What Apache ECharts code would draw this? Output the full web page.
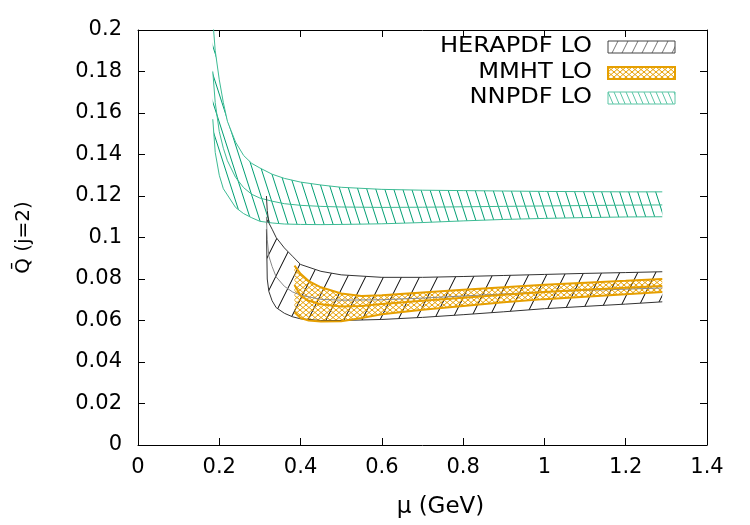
<!DOCTYPE html>
<html>
<head>
<meta charset="utf-8">
<script src="https://cdn.jsdelivr.net/npm/echarts/dist/echarts.min.js"></script>
<style>html,body{margin:0;padding:0;background:#fff}#c{width:750px;height:525px}</style>
</head>
<body>
<div id="c"></div>
<script>
// ---- data ----
const legendNames = ['HERAPDF LO', 'MMHT LO', 'NNPDF LO'];

const nnX   = [0.184, 0.19, 0.20, 0.21, 0.22, 0.24, 0.26, 0.28, 0.30, 0.33, 0.36, 0.40, 0.45, 0.50, 0.60, 0.70, 0.80, 0.90, 1.00, 1.10, 1.20, 1.29];
const nnUp  = [0.205, 0.190, 0.176, 0.165, 0.156, 0.146, 0.1395, 0.1357, 0.1335, 0.1305, 0.1285, 0.1267, 0.1253, 0.1242, 0.1232, 0.1228, 0.1226, 0.1224, 0.1222, 0.1221, 0.1220, 0.1220];
const nnMid = [0.180, 0.165, 0.151, 0.143, 0.137, 0.129, 0.124, 0.1208, 0.119, 0.1175, 0.1163, 0.1155, 0.1150, 0.1147, 0.1145, 0.1146, 0.1148, 0.1150, 0.1152, 0.1154, 0.1156, 0.1157];
const nnLo  = [0.157, 0.141, 0.130, 0.1235, 0.1205, 0.1145, 0.1115, 0.1095, 0.1078, 0.1070, 0.1065, 0.1063, 0.1062, 0.1063, 0.1066, 0.1072, 0.1080, 0.1087, 0.1092, 0.1096, 0.1099, 0.1100];

const heX   = [0.316, 0.318, 0.322, 0.33, 0.34, 0.36, 0.38, 0.40, 0.45, 0.50, 0.60, 0.70, 0.80, 0.90, 1.00, 1.10, 1.20, 1.29];
const heUp  = [0.120, 0.113, 0.107, 0.104, 0.100, 0.095, 0.091, 0.087, 0.0837, 0.0820, 0.0808, 0.0808, 0.0812, 0.0817, 0.0822, 0.0827, 0.0831, 0.0835];
const heMid = [0.110, 0.099, 0.091, 0.086, 0.081, 0.0765, 0.0738, 0.0722, 0.0702, 0.0698, 0.0700, 0.0708, 0.0718, 0.0728, 0.0738, 0.0745, 0.0751, 0.0757];
const heLo  = [0.104, 0.080, 0.074, 0.0695, 0.0662, 0.0635, 0.0618, 0.0608, 0.0600, 0.0600, 0.0605, 0.0615, 0.0628, 0.0642, 0.0657, 0.0668, 0.0679, 0.0690];

const mmX   = [0.385, 0.40, 0.42, 0.45, 0.50, 0.55, 0.60, 0.70, 0.80, 0.90, 1.00, 1.10, 1.20, 1.29];
const mmUp  = [0.0864, 0.0825, 0.0790, 0.0760, 0.0730, 0.0718, 0.0722, 0.0735, 0.0748, 0.0760, 0.0772, 0.0782, 0.0791, 0.0800];
const mmMid = [0.0771, 0.0720, 0.0695, 0.0678, 0.0668, 0.0670, 0.0680, 0.0695, 0.0710, 0.0724, 0.0737, 0.0748, 0.0758, 0.0766];
const mmLo  = [0.0640, 0.0612, 0.0600, 0.0595, 0.0596, 0.0612, 0.0630, 0.0652, 0.0670, 0.0688, 0.0703, 0.0715, 0.0727, 0.0737];

// ---- styling ----
const FONT = 'DejaVu Sans';
const TEAL = '#009e73', ORANGE = '#e69f00', BLACK = '#000000';

function makePattern(w, h, color, lw, dirs) {
  const c = document.createElement('canvas');
  c.width = w; c.height = h;
  const g = c.getContext('2d');
  g.strokeStyle = color; g.lineWidth = lw;
  dirs.forEach(d => {
    [-w, 0, w].forEach(off => {
      g.beginPath();
      if (d === '/') { g.moveTo(off, h); g.lineTo(off + w, 0); }
      else { g.moveTo(off, 0); g.lineTo(off + w, h); }
      g.stroke();
    });
  });
  return { image: c, repeat: 'repeat' };
}
const patHera = makePattern(18, 36, BLACK, 1, ['/']);
const patNN   = makePattern(9, 28, TEAL, 1, ['\\']);
const patMM   = makePattern(6, 5, ORANGE, 1, ['/', '\\']);
const patHeraKey = makePattern(10, 20, '#777', 1, ['/']);
const patNNKey   = makePattern(6, 14, '#5cc6a6', 1, ['\\']);

function band(name, xs, lo, up, pattern) {
  return {
    type: 'custom', name: name, clip: true, silent: true, animation: false, z: 1,
    data: xs.map((x, i) => [x, lo[i], up[i]]),
    encode: { x: 0, y: [1, 2] },
    renderItem: function (params, api) {
      if (params.dataIndex !== 0) return;
      const pts = [];
      for (let i = 0; i < xs.length; i++) pts.push(api.coord([xs[i], up[i]]));
      for (let i = xs.length - 1; i >= 0; i--) pts.push(api.coord([xs[i], lo[i]]));
      return { type: 'polygon', shape: { points: pts }, style: { fill: pattern, stroke: null } };
    }
  };
}
function line(xs, ys, color, width, z) {
  return {
    type: 'line', data: xs.map((x, i) => [x, ys[i]]), symbol: 'none', showSymbol: false,
    silent: true, animation: false, clip: true, z: z || 3,
    lineStyle: { color: color, width: width }
  };
}

const axisCommon = {
  type: 'value', min: 0,
  splitLine: { show: false },
  axisLine: { show: true, onZero: false, lineStyle: { color: '#000', width: 1 } },
  axisTick: { show: true, inside: true, length: 7, lineStyle: { color: '#000', width: 1 } },
  axisLabel: { color: '#000', fontFamily: FONT, fontSize: 21 }
};

const chart = echarts.init(document.getElementById('c'), null, { renderer: 'canvas' });
chart.setOption({
  animation: false,
  backgroundColor: '#fff',
  grid: { left: 138, right: 43, top: 30, bottom: 80 },
  xAxis: [
    Object.assign({}, axisCommon, { max: 1.4, interval: 0.2, position: 'bottom',
      axisLabel: Object.assign({}, axisCommon.axisLabel, { margin: 12 }),
      name: 'μ (GeV)', nameLocation: 'middle', nameGap: 51,
      nameTextStyle: { color: '#000', fontFamily: FONT, fontSize: 23, padding: [0, 0, 0, 36] } }),
    Object.assign({}, axisCommon, { max: 1.4, interval: 0.2, position: 'top', axisLabel: { show: false } })
  ],
  yAxis: [
    Object.assign({}, axisCommon, { max: 0.2, interval: 0.02, position: 'left',
      axisLabel: Object.assign({}, axisCommon.axisLabel, { margin: 16 }),
      name: 'Q\u0304 (j=2)', nameLocation: 'middle', nameGap: 104, nameRotate: 90,
      nameTextStyle: { color: '#000', fontFamily: FONT, fontSize: 20 } }),
    Object.assign({}, axisCommon, { max: 0.2, interval: 0.02, position: 'right', axisLabel: { show: false } })
  ],
  series: [
    band('NNPDF LO', nnX, nnLo, nnUp, patNN),
    line(nnX, nnUp, '#3dbb94', 1),
    line(nnX, nnLo, '#3dbb94', 1),
    line(nnX, nnMid, '#3dbb94', 1),
    band('HERAPDF LO', heX, heLo, heUp, patHera),
    line(heX, heUp, '#333', 1),
    line(heX, heLo, '#333', 1),
    line(heX, heMid, '#888', 1),
    band('MMHT LO', mmX, mmLo, mmUp, patMM),
    line(mmX, mmUp, ORANGE, 2, 5),
    line(mmX, mmLo, ORANGE, 2, 5),
    line(mmX, mmMid, ORANGE, 2, 5)
  ],
  graphic: [
    { type: 'text', x: 592, y: 47, scaleX: 1.15, style: { text: legendNames[0], font: '21px "DejaVu Sans"', fill: '#000', align: 'right', verticalAlign: 'middle' } },
    { type: 'text', x: 592, y: 73, scaleX: 1.15, style: { text: legendNames[1], font: '21px "DejaVu Sans"', fill: '#000', align: 'right', verticalAlign: 'middle' } },
    { type: 'text', x: 592, y: 98, scaleX: 1.15, style: { text: legendNames[2], font: '21px "DejaVu Sans"', fill: '#000', align: 'right', verticalAlign: 'middle' } },
    { type: 'rect', x: 608, y: 41, shape: { width: 67, height: 12 }, style: { fill: patHeraKey, stroke: '#444', lineWidth: 1 } },
    { type: 'rect', x: 608, y: 67, shape: { width: 67, height: 12 }, style: { fill: patMM, stroke: ORANGE, lineWidth: 2 } },
    { type: 'rect', x: 608, y: 92, shape: { width: 67, height: 12 }, style: { fill: patNNKey, stroke: '#5cc6a6', lineWidth: 1 } }
  ]
});
</script>
</body>
</html>
